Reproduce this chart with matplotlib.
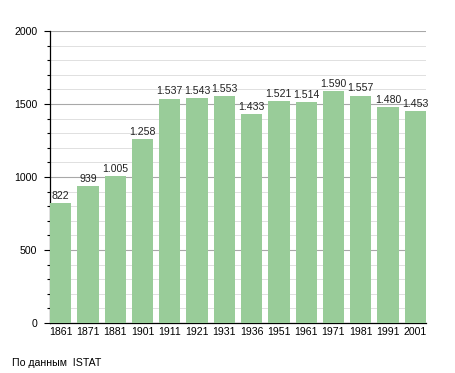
import numpy as np
import matplotlib.pyplot as plt
from matplotlib.ticker import MultipleLocator

plt.rcParams['font.family'] = ['Liberation Sans', 'DejaVu Sans']

# dati
anni = ['1861', '1871', '1881', '1901', '1911', '1921', '1931',
        '1936', '1951', '1961', '1971', '1981', '1991', '2001']
abitanti = [822, 939, 1005, 1258, 1537, 1543, 1553,
            1433, 1521, 1514, 1590, 1557, 1480, 1453]
etichette = ['822', '939', '1.005', '1.258', '1.537', '1.543', '1.553',
             '1.433', '1.521', '1.514', '1.590', '1.557', '1.480', '1.453']

fig = plt.figure(figsize=(4.55, 3.73), dpi=100)
ax = fig.add_axes([0.11, 0.134, 0.826, 0.783])

x = np.arange(len(anni))
ax.bar(x, abitanti, width=0.78, color='#99cc99', zorder=3)

for xi, v, t in zip(x, abitanti, etichette):
    ax.text(xi, v + 15, t, ha='center', va='bottom', fontsize=7.6, color='#222222', zorder=4)

ax.set_xlim(-0.39, len(anni) - 0.61)
ax.set_ylim(0, 2000)
ax.set_xticks(x)
ax.set_xticklabels(anni, fontsize=7.6)
ax.yaxis.set_major_locator(MultipleLocator(500))
ax.yaxis.set_minor_locator(MultipleLocator(100))
ax.tick_params(axis='y', which='major', labelsize=7.6, length=4.3, width=0.8, pad=5)
ax.tick_params(axis='y', which='minor', length=2.2, width=0.8)
ax.tick_params(axis='x', length=0, pad=3)

ax.grid(axis='y', which='major', color='#a8a8a8', linewidth=0.8, zorder=0)
ax.grid(axis='y', which='minor', color='#e0e0e0', linewidth=0.7, zorder=0)

for s in ['top', 'right']:
    ax.spines[s].set_visible(False)
ax.spines['left'].set_linewidth(0.9)
ax.spines['bottom'].set_linewidth(0.9)

fig.text(12 / 455, 1 - 363 / 373, 'По данным  ISTAT', fontsize=7.6, va='center', ha='left')

fig.savefig('out.png', dpi=100)
